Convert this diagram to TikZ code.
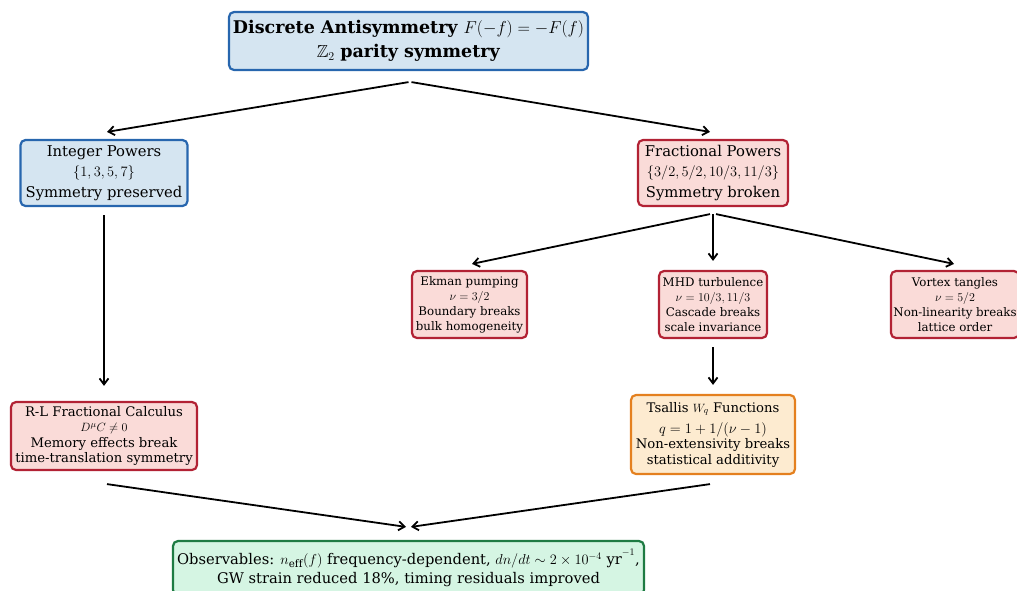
\documentclass[tikz,border=0pt]{standalone}
\usepackage{amssymb}
\usepackage{fontspec}
\setmainfont{DejaVu Serif}
\usetikzlibrary{arrows.meta}
\definecolor{bluefill}{HTML}{D5E5F1}
\definecolor{blueedge}{HTML}{2766AE}
\definecolor{redfill}{HTML}{FADBD8}
\definecolor{rededge}{HTML}{B22234}
\definecolor{orangefill}{HTML}{FDEBD0}
\definecolor{orangeedge}{HTML}{E4801F}
\definecolor{greenfill}{HTML}{D5F5E3}
\definecolor{greenedge}{HTML}{1E7B43}
\newcommand{\bigmath}[1]{{\fontsize{15.4}{20.5}\selectfont$#1$}}
\tikzset{
  box/.style={draw, rounded corners=5pt, line width=2.2pt, align=center,
    inner sep=0pt},
  bigbox/.style={box, font=\fontsize{14.8}{20.5}\selectfont},
  smallbox/.style={box, font=\fontsize{11.8}{15}\selectfont},
  blue/.style={fill=bluefill, draw=blueedge},
  red/.style={fill=redfill, draw=rededge},
  orange/.style={fill=orangefill, draw=orangeedge},
  green/.style={fill=greenfill, draw=greenedge},
}
\begin{document}
\begin{tikzpicture}[x=1pt, y=-1pt]
  \useasboundingbox (0,0) rectangle (1017,590);
  \draw
    (408.5,41) node[bigbox, blue, font=\fontsize{17.5}{24}\selectfont,
      minimum width=359pt, minimum height=58pt] (top)
      {\textbf{Discrete Antisymmetry} $F(-f) = -F(f)$\\$\mathbb{Z}_2$ \textbf{parity symmetry}}
    (104,173) node[bigbox, blue, minimum width=167pt, minimum height=66pt] (int)
      {Integer Powers\\\bigmath{\bigl\{1,3,5,7\bigr\}}\\Symmetry preserved}
    (713,173) node[bigbox, red, minimum width=150pt, minimum height=66pt] (frac)
      {Fractional Powers\\\bigmath{\bigl\{3/2,5/2,10/3,11/3\bigr\}}\\Symmetry broken}
    (469.5,304.5) node[smallbox, red, minimum width=115pt, minimum height=67pt] (ek)
      {Ekman pumping\\$\nu = 3/2$\\Boundary breaks\\bulk homogeneity}
    (713,304.5) node[smallbox, red, minimum width=108pt, minimum height=67pt] (mhd)
      {MHD turbulence\\$\nu = 10/3, 11/3$\\Cascade breaks\\scale invariance}
    (955,304.5) node[smallbox, red, minimum width=128pt, minimum height=67pt] (vt)
      {Vortex tangles\\$\nu = 5/2$\\Non-linearity breaks\\lattice order}
    (104,436) node[smallbox, red, font=\fontsize{13.2}{15.5}\selectfont,
      minimum width=186pt, minimum height=68pt] (rl)
      {R-L Fractional Calculus\\$D^{\mu} C \neq 0$\\Memory effects break\\time-translation symmetry}
    (713,434.5) node[smallbox, orange, font=\fontsize{13.2}{15.5}\selectfont,
      minimum width=164pt, minimum height=79pt] (ts)
      {Tsallis $W_q$ Functions\\[5.5pt]{\fontsize{15.5}{15.5}\selectfont$q = 1 + 1/(\nu - 1)$}\\Non-extensivity breaks\\statistical additivity}
    (408.5,568) node[bigbox, green, font=\fontsize{14.7}{19}\selectfont,
      minimum width=471pt, minimum height=54pt] (obs)
      {Observables: $n_{\mathrm{eff}}(f)$ frequency-dependent, $dn/dt \sim 2\times10^{-4}\ \mathrm{yr}^{-1}$,\\GW strain reduced 18\%, timing residuals improved};
  \begin{scope}[-{Straight Barb[length=6pt,width=9pt]}, line width=1.8pt]
    \draw ([yshift=-11pt]top.south) to ([xshift=3pt,yshift=7pt]int.north);
    \draw ([xshift=3pt,yshift=-11pt]top.south) to ([xshift=-3pt,yshift=7pt]frac.north);
    \draw ([yshift=-8pt]int.south) to ([yshift=15pt]rl.north);
    \draw ([xshift=-3pt,yshift=-7pt]frac.south) to ([xshift=2.5pt,yshift=6pt]ek.north);
    \draw ([yshift=-7pt]frac.south) to ([yshift=9pt]mhd.north);
    \draw ([xshift=3pt,yshift=-7pt]frac.south) to ([xshift=-1pt,yshift=6pt]vt.north);
    \draw ([yshift=-8pt]mhd.south) to ([yshift=9pt]ts.north);
    \draw ([xshift=3pt,yshift=-13pt]rl.south) to ([xshift=-2.5pt,yshift=13pt]obs.north);
    \draw ([xshift=-3pt,yshift=-9pt]ts.south) to ([xshift=2.5pt,yshift=13pt]obs.north);
  \end{scope}
\end{tikzpicture}
\end{document}
